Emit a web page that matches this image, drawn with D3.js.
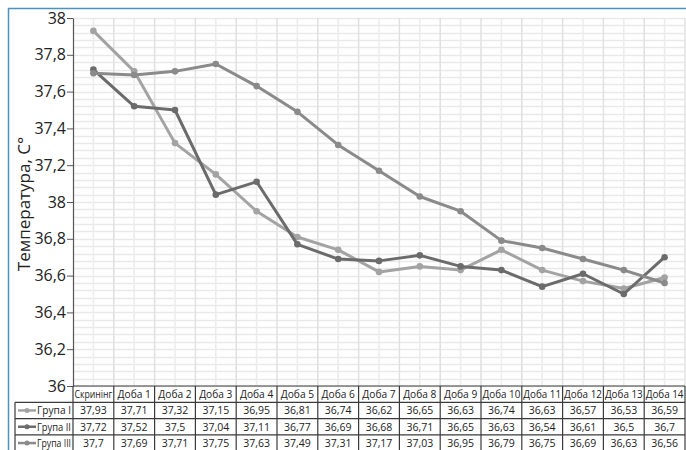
<!DOCTYPE html>
<html>
<head>
<meta charset="utf-8">
<script src="https://cdn.jsdelivr.net/npm/d3@7"></script>
<style>
  html, body { margin: 0; padding: 0; background: #fff; }
  svg { display: block; font-family: "Open Sans", sans-serif; }
</style>
</head>
<body>
<svg id="chart" width="686" height="450"></svg>
<script>
// Categories along the x axis
const categories = ["Скринінг", "Доба 1", "Доба 2", "Доба 3", "Доба 4", "Доба 5", "Доба 6",
  "Доба 7", "Доба 8", "Доба 9", "Доба 10", "Доба 11", "Доба 12", "Доба 13", "Доба 14"];

// Series values (°C)
const group1 = [37.93, 37.71, 37.32, 37.15, 36.95, 36.81, 36.74, 36.62, 36.65, 36.63, 36.74, 36.63, 36.57, 36.53, 36.59];
const group2 = [37.72, 37.52, 37.5, 37.04, 37.11, 36.77, 36.69, 36.68, 36.71, 36.65, 36.63, 36.54, 36.61, 36.5, 36.7];
const group3 = [37.7, 37.69, 37.71, 37.75, 37.63, 37.49, 37.31, 37.17, 37.03, 36.95, 36.79, 36.75, 36.69, 36.63, 36.56];

// Labels as printed in the table
const tableLabels1 = ["37,93", "37,71", "37,32", "37,15", "36,95", "36,81", "36,74", "36,62", "36,65", "36,63", "36,74", "36,63", "36,57", "36,53", "36,59"];
const tableLabels2 = ["37,72", "37,52", "37,5", "37,04", "37,11", "36,77", "36,69", "36,68", "36,71", "36,65", "36,63", "36,54", "36,61", "36,5", "36,7"];
const tableLabels3 = ["37,7", "37,69", "37,71", "37,75", "37,63", "37,49", "37,31", "37,17", "37,03", "36,95", "36,79", "36,75", "36,69", "36,63", "36,56"];

const seriesNames = ["Група I", "Група II", "Група III"];

// Y axis ticks and their printed labels
const yTickValues = [36, 36.2, 36.4, 36.6, 36.8, 37, 37.2, 37.4, 37.6, 37.8, 38];
const yTickLabels = ["36", "36,2", "36,4", "36,6", "36,8", "38", "37,2", "37,4", "37,6", "37,8", "38"];

const yTitle = "Температура, С°";

const series = [
  { name: seriesNames[0], values: group1, labels: tableLabels1, color: "#a3a3a3" },
  { name: seriesNames[1], values: group2, labels: tableLabels2, color: "#6b6b6b" },
  { name: seriesNames[2], values: group3, labels: tableLabels3, color: "#8a8a8a" }
];

const svg = d3.select("#chart");

const plot = { left: 73, right: 685, top: 18, bottom: 386 };

const x = d3.scaleBand().domain(categories).range([plot.left, plot.right]).padding(0);
const y = d3.scaleLinear().domain([36, 38]).range([plot.bottom, plot.top]);

// Shrinks a text element horizontally when it is wider than the room it has
function fitText(sel, maxW) {
  sel.each(function () {
    const w = this.getComputedTextLength();
    if (w > maxW) d3.select(this).attr("textLength", maxW).attr("lengthAdjust", "spacingAndGlyphs");
  });
}

// Outer frame (top and left edges)
svg.append("line").attr("x1", 8).attr("x2", 686).attr("y1", 8.5).attr("y2", 8.5)
  .attr("stroke", "#4b93bd").attr("stroke-width", 1.5);
svg.append("line").attr("x1", 8.5).attr("x2", 8.5).attr("y1", 8).attr("y2", 450)
  .attr("stroke", "#4b93bd").attr("stroke-width", 1.5);

// Grid: minor horizontal lines every 0.04
const grid = svg.append("g");
const minorY = d3.range(0, 51).map(i => 36 + i * 0.04);
grid.selectAll("line.hminor").data(minorY).join("line")
  .attr("x1", plot.left).attr("x2", plot.right)
  .attr("y1", d => Math.round(y(d)) + 0.5).attr("y2", d => Math.round(y(d)) + 0.5)
  .attr("stroke", "#e9e9e9").attr("stroke-width", 1.5);
// Vertical lines: category centers and boundaries
grid.selectAll("line.vcenter").data(categories).join("line")
  .attr("x1", d => x(d) + x.bandwidth() / 2).attr("x2", d => x(d) + x.bandwidth() / 2)
  .attr("y1", plot.top).attr("y2", plot.bottom)
  .attr("stroke", "#ececec").attr("stroke-width", 1.5);
grid.selectAll("line.vedge").data(categories).join("line")
  .attr("x1", d => x(d) + x.bandwidth())
  .attr("x2", d => x(d) + x.bandwidth())
  .attr("y1", plot.top).attr("y2", plot.bottom)
  .attr("stroke", "#e0e0e0").attr("stroke-width", 1.5);

// Y axis
const yAxis = d3.axisLeft(y).tickValues(yTickValues)
  .tickFormat((d, i) => yTickLabels[i]).tickSize(6).tickSizeOuter(0);
const ya = svg.append("g").attr("transform", `translate(${plot.left},0)`).call(yAxis);
ya.select(".domain").attr("stroke", "#555").attr("stroke-width", 1.2);
ya.selectAll(".tick line").attr("stroke", "#555");
ya.selectAll(".tick text").attr("font-size", 16).attr("fill", "#222")
  .attr("font-family", "Open Sans, sans-serif").attr("x", -7);

// Y axis title
svg.append("text")
  .attr("transform", `translate(30,${(plot.top + plot.bottom) / 2 + 2}) rotate(-90)`)
  .attr("text-anchor", "middle").attr("font-size", 17).attr("fill", "#222")
  .text(yTitle);

// Lines and markers
const line = d3.line().x((d, i) => x(categories[i]) + x.bandwidth() / 2).y(d => y(d));
const lines = svg.append("g");
series.forEach(s => {
  lines.append("path").datum(s.values).attr("d", line)
    .attr("fill", "none").attr("stroke", s.color).attr("stroke-width", 3)
    .attr("stroke-linejoin", "round");
  lines.append("g").selectAll("circle").data(s.values).join("circle")
    .attr("cx", (d, i) => x(categories[i]) + x.bandwidth() / 2)
    .attr("cy", d => y(d)).attr("r", 3.3).attr("fill", s.color);
});

// Data table below the plot
const rowH = 16.3;
const tableTop = plot.bottom;
const legendLeft = 15;
const table = svg.append("g");
const borderColor = "#3a3a3a";

// Header row: category names
table.selectAll("text.head").data(categories).join("text")
  .attr("x", d => x(d) + x.bandwidth() / 2).attr("y", tableTop + rowH / 2 + 4)
  .attr("text-anchor", "middle").attr("font-size", 10.2).attr("fill", "#222")
  .text(d => d)
  .call(fitText, x.bandwidth() - 3);

// Body rows
series.forEach((s, r) => {
  const rowY = tableTop + rowH * (r + 1);
  table.append("g").selectAll("text").data(s.labels).join("text")
    .attr("x", (d, i) => x(categories[i]) + x.bandwidth() / 2)
    .attr("y", rowY + rowH / 2 + 4)
    .attr("text-anchor", "middle").attr("font-size", 10.5).attr("fill", "#222")
    .text(d => d);
  // Legend key: short line with a marker
  table.append("line").attr("x1", legendLeft + 3).attr("x2", legendLeft + 21)
    .attr("y1", rowY + rowH / 2).attr("y2", rowY + rowH / 2)
    .attr("stroke", s.color).attr("stroke-width", 2.5);
  table.append("circle").attr("cx", legendLeft + 12).attr("cy", rowY + rowH / 2)
    .attr("r", 2.5).attr("fill", s.color);
  table.append("text").attr("x", legendLeft + 22).attr("y", rowY + rowH / 2 + 4)
    .attr("font-size", 10.5).attr("fill", "#222").text(s.name)
    .call(fitText, plot.left - legendLeft - 24);
});

// Table borders
const hLines = [0, 1, 2, 3, 4].map(k => tableTop + rowH * k);
table.selectAll("line.h").data(hLines).join("line")
  .attr("x1", (d, k) => k === 0 ? plot.left : legendLeft).attr("x2", plot.right)
  .attr("y1", d => d).attr("y2", d => d)
  .attr("stroke", borderColor).attr("stroke-width", 1.2);
const vEdges = d3.range(0, categories.length + 1).map(i => plot.left + i * x.bandwidth());
table.selectAll("line.v").data(vEdges).join("line")
  .attr("x1", d => d).attr("x2", d => d)
  .attr("y1", tableTop).attr("y2", tableTop + rowH * 4)
  .attr("stroke", borderColor).attr("stroke-width", 1.2);
table.append("line").attr("x1", legendLeft).attr("x2", legendLeft)
  .attr("y1", tableTop + rowH).attr("y2", tableTop + rowH * 4)
  .attr("stroke", borderColor).attr("stroke-width", 1.2);
</script>
</body>
</html>
